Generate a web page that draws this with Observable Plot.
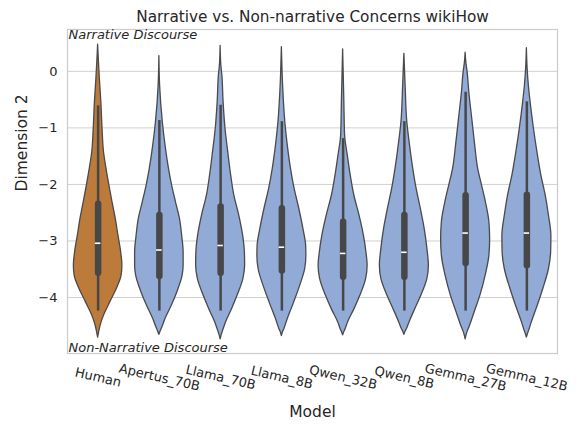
<!DOCTYPE html>
<html><head><meta charset="utf-8">
<script src="https://cdn.jsdelivr.net/npm/d3@7"></script>
<script src="https://cdn.jsdelivr.net/npm/@observablehq/plot@0.6"></script>
<style>body{margin:0;background:#fff} svg{font-family:"DejaVu Sans",sans-serif}</style>
</head><body><div id="chart"></div>
<script>
// Categories
const models = ["Human","Apertus_70B","Llama_70B","Llama_8B","Qwen_32B","Qwen_8B","Gemma_27B","Gemma_12B"];
// Density profiles: [Dimension 2 value, relative width 0..1]
const humanProfile = [[0.47,0],[0.28,0.02],[-0.13,0.07],[-0.54,0.13],[-1.02,0.18],[-1.43,0.24],[-1.72,0.34],[-2.02,0.46],[-2.32,0.59],[-2.61,0.72],[-2.91,0.83],[-3.2,0.94],[-3.44,0.99],[-3.61,0.96],[-3.85,0.76],[-4.09,0.49],[-4.32,0.24],[-4.5,0.1],[-4.62,0.04],[-4.71,0]];
const apertusProfile = [[0.27,0],[-0.25,0.03],[-0.9,0.14],[-1.31,0.25],[-1.72,0.39],[-2.02,0.52],[-2.32,0.68],[-2.61,0.84],[-2.91,0.93],[-3.2,0.99],[-3.44,0.99],[-3.61,0.95],[-3.91,0.73],[-4.15,0.5],[-4.38,0.25],[-4.53,0.12],[-4.6,0.05],[-4.66,0]];
const llama70Profile = [[0.45,0],[0.1,0.03],[-0.07,0.07],[-0.54,0.12],[-1.02,0.2],[-1.43,0.31],[-1.84,0.43],[-2.2,0.56],[-2.55,0.76],[-2.91,0.92],[-3.2,0.99],[-3.44,1.0],[-3.67,0.93],[-3.97,0.69],[-4.21,0.46],[-4.44,0.22],[-4.59,0.1],[-4.67,0.04],[-4.74,0]];
const llama8Profile = [[0.43,0],[-0.25,0.05],[-0.9,0.14],[-1.31,0.24],[-1.72,0.37],[-2.08,0.52],[-2.43,0.71],[-2.79,0.88],[-3.08,0.99],[-3.26,1.0],[-3.5,0.95],[-3.79,0.75],[-4.09,0.5],[-4.38,0.24],[-4.56,0.1],[-4.62,0.04],[-4.68,0]];
const qwen32Profile = [[0.39,0],[-0.54,0.05],[-1.13,0.08],[-1.49,0.19],[-1.84,0.31],[-2.2,0.46],[-2.55,0.67],[-2.91,0.85],[-3.2,0.95],[-3.44,1.0],[-3.67,0.94],[-3.97,0.7],[-4.21,0.46],[-4.44,0.2],[-4.56,0.1],[-4.62,0.04],[-4.67,0]];
const qwen8Profile = [[0.31,0],[-0.25,0.05],[-0.9,0.12],[-1.31,0.23],[-1.72,0.36],[-2.08,0.5],[-2.43,0.67],[-2.79,0.83],[-3.14,0.94],[-3.44,1.0],[-3.67,0.94],[-3.97,0.69],[-4.21,0.44],[-4.44,0.21],[-4.56,0.1],[-4.61,0.04],[-4.66,0]];
const gemma27Profile = [[0.33,0],[0.15,0.03],[-0.01,0.08],[-0.37,0.15],[-0.84,0.27],[-1.31,0.39],[-1.72,0.51],[-2.02,0.67],[-2.32,0.83],[-2.67,0.97],[-2.97,1.0],[-3.26,0.97],[-3.61,0.82],[-3.97,0.6],[-4.26,0.37],[-4.5,0.18],[-4.62,0.07],[-4.68,0.03],[-4.74,0]];
const gemma12Profile = [[0.41,0],[0.05,0.03],[-0.25,0.08],[-0.54,0.15],[-1.02,0.29],[-1.43,0.43],[-1.84,0.59],[-2.2,0.77],[-2.55,0.9],[-2.91,1.0],[-3.2,0.99],[-3.5,0.9],[-3.85,0.67],[-4.15,0.44],[-4.44,0.2],[-4.59,0.09],[-4.65,0.04],[-4.71,0]];
// Box statistics
const q3s = [-2.35,-2.55,-2.40,-2.43,-2.67,-2.55,-2.20,-2.19];
const medians = [-3.04,-3.16,-3.08,-3.11,-3.22,-3.20,-2.86,-2.86];
const q1s = [-3.57,-3.63,-3.57,-3.53,-3.64,-3.64,-3.40,-3.44];
const whiskerHi = [-0.61,-0.87,-0.60,-0.89,-1.19,-0.89,-0.37,-0.54];
const whiskerLo = [-4.24,-4.24,-4.24,-4.24,-4.24,-4.24,-4.24,-4.24];
const yTicks = [-4,-3,-2,-1,0];

const profileList = [humanProfile,apertusProfile,llama70Profile,llama8Profile,qwen32Profile,qwen8Profile,gemma27Profile,gemma12Profile];
const humanColor = "#bc7b3a", modelColor = "#91aad6", lineColor = "#474747";
const halfMax = 0.4;

const violinRows = profileList.flatMap((p, i) => p.map(([y, w]) => ({model: models[i], i, y, w})));
const stats = models.map((m, i) => ({model: m, i, q1: q1s[i], q3: q3s[i], med: medians[i], lo: whiskerLo[i], hi: whiskerHi[i]}));

const chart = Plot.plot({
  width: 582, height: 426,
  marginLeft: 67, marginRight: 25, marginTop: 29, marginBottom: 73,
  style: {fontFamily: "DejaVu Sans, sans-serif", background: "#fff", overflow: "visible"},
  x: {domain: [-0.5, 7.5], axis: null},
  y: {domain: [-4.99, 0.74], axis: null},
  marks: [
    Plot.gridY(yTicks, {stroke: "#d0d0d0", strokeOpacity: 1, strokeWidth: 1}),
    Plot.axisY(yTicks, {tickSize: 0, tickPadding: 10, tickFormat: "d", fontSize: 13, fill: "#262626", label: null}),
    Plot.areaX(violinRows, {
      y: "y",
      x1: d => d.i - d.w * halfMax,
      x2: d => d.i + d.w * halfMax,
      z: "model",
      fill: d => d.model === "Human" ? humanColor : modelColor,
      stroke: "#4a4a4a", strokeWidth: 1.3,
      curve: "monotone-y"
    }),
    Plot.ruleX(stats, {x: "i", y1: "lo", y2: "hi", stroke: lineColor, strokeWidth: 2.5}),
    Plot.ruleX(stats, {x: "i", y1: "q1", y2: "q3", stroke: lineColor, strokeWidth: 6.5, strokeLinecap: "round"}),
    Plot.ruleY(stats, {y: "med", x1: d => d.i - 0.045, x2: d => d.i + 0.045, stroke: "#ffffff", strokeWidth: 1.6}),
    Plot.frame({stroke: "#cccccc", strokeWidth: 1.25}),
    Plot.text(models, {x: (d, i) => i, frameAnchor: "bottom", dy: 24, text: d => d, rotate: 13, textAnchor: "middle", lineAnchor: "middle", fontSize: 13, fill: "#262626"}),
    Plot.text(["Narrative Discourse"], {frameAnchor: "top-left", dx: 1, dy: 0, lineAnchor: "top", textAnchor: "start", fontSize: 13, fontStyle: "italic", fill: "#262626"}),
    Plot.text(["Non-Narrative Discourse"], {frameAnchor: "bottom-left", dx: 1, dy: -2, lineAnchor: "bottom", textAnchor: "start", fontSize: 13, fontStyle: "italic", fill: "#262626"}),
    Plot.text(["Narrative vs. Non-narrative Concerns wikiHow"], {frameAnchor: "top", dy: -12.5, lineAnchor: "middle", fontSize: 15.3, fill: "#262626"}),
    Plot.text(["Model"], {frameAnchor: "bottom", dy: 59, lineAnchor: "middle", fontSize: 15.5, fill: "#262626"}),
    Plot.text(["Dimension 2"], {frameAnchor: "left", dx: -45, rotate: -90, lineAnchor: "middle", fontSize: 15.5, fill: "#262626"})
  ]
});
document.getElementById("chart").appendChild(chart);
</script>
</body></html>
